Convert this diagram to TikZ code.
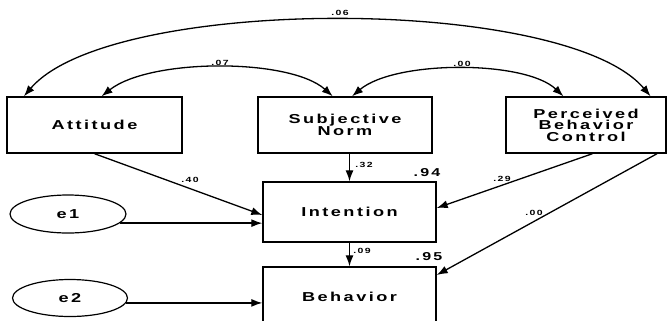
\documentclass[tikz,border=0pt]{standalone}
\usepackage{fontspec}
\newfontfamily\semfont{Liberation Sans Bold}[FakeStretch=1.4,LetterSpace=19]
\usetikzlibrary{arrows.meta,calc,positioning,shapes.geometric}
\tikzset{
  var/.style={draw,line width=1.4bp,inner sep=0pt,align=center,
    font=\semfont\fontsize{13}{11.5}\selectfont},
  err/.style={ellipse,draw,line width=1.2bp,inner sep=0pt,
    minimum width=116bp,minimum height=38bp,font=\semfont\fontsize{13}{13}\selectfont},
  link/.style={line width=1.3bp,-{Latex[length=11bp,width=8bp]}},
  cov/.style={line width=1.3bp,{Latex[length=11bp,width=8bp]}-{Latex[length=11bp,width=8bp]}},
  coef/.style={font=\semfont\fontsize{7.5}{7.5}\selectfont,inner sep=0pt},   % path weights
  rsq/.style={font=\semfont\fontsize{11.5}{11.5}\selectfont,inner sep=0pt},  % squared multiple correlations
}
\begin{document}
\begin{tikzpicture}[x=1bp,y=-1bp]
    \useasboundingbox (0,0) rectangle (668,320);
    % observed variables
    \node[var,minimum width=175bp,minimum height=56bp] (att) at (94.5,125) {Attitude};
    \node[var,minimum width=174bp,minimum height=56bp] (sn) at (345,125) {Subjective\\Norm};
    \node[var,minimum width=160bp,minimum height=56bp] (pbc) at (586,125) {Perceived\\Behavior\\Control};
    \node[var,minimum width=173bp,minimum height=60bp] (int) at (349.5,212) {Intention};
    \node[var,minimum width=173bp,minimum height=60bp] (beh) at (349.5,297) {Behavior};
    % error terms
    \node[err] (e1) at (68,214) {e1};
    \node[err,minimum width=115bp,minimum height=37bp] (e2) at (70,298) {e2};
    \coordinate (e1out) at (e1.-10);
    \coordinate (e2out) at (e2.-5);
    % covariances between the exogenous variables
    \draw[cov] ($(att.north west)!0.1!(att.north east)$) .. controls (110,-5) and (565,-5) .. ($(pbc.north west)!0.9!(pbc.north east)$);
    \draw[cov] ($(att.north west)!0.54!(att.north east)$) .. controls (150,58) and (290,58) .. ($(sn.north west)!0.43!(sn.north east)$);
    \draw[cov] ($(sn.north west)!0.54!(sn.north east)$) .. controls (395,60) and (525,60) .. ($(pbc.north west)!0.36!(pbc.north east)$);
    \node[coef] (l06) at (340,13) {.06};
    \node[coef] (l07) at (220,63) {.07};
    \node[coef] (l00a) at (462,64) {.00};
    % regression paths
    \draw[link] (att.south) -- ([yshift=-3bp]int.west);
    \draw[link] (e1out) -- (e1out -| int.west);
    \draw[link] (sn.south -| int.north) -- (int.north);
    \draw[link] ($(pbc.south west)!0.54!(pbc.south east)$) -- ([yshift=4bp]int.east);
    \draw[link] (int.south) -- (beh.north);
    \draw[link] ($(pbc.south west)!0.94!(pbc.south east)$) -- ([yshift=22bp]beh.east);
    \draw[link] (e2out) -- (e2out -| beh.west);
    \node[coef] (l40) at (190,180) {.40};
    \node[coef] (l32) at (364,165) {.32};
    \node[rsq] (r94) at (427,173) {.94};
    \node[coef] (l29) at (502,179) {.29};
    \node[coef] (l00b) at (534,213) {.00};
    \node[coef] (l09) at (362,251) {.09};
    \node[rsq] (r95) at (429,257) {.95};
\end{tikzpicture}
\end{document}
